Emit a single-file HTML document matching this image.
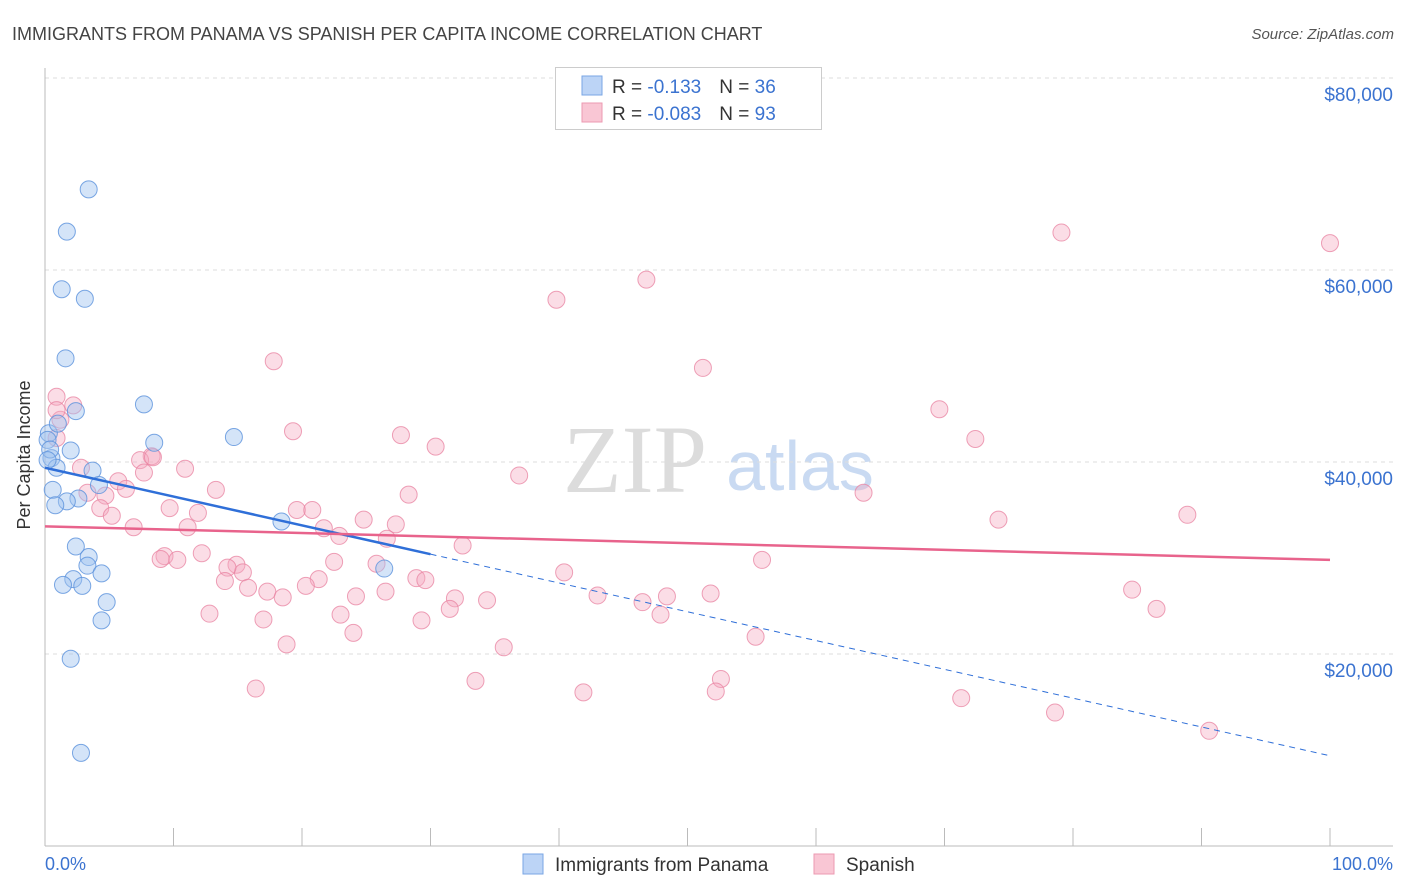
<!DOCTYPE html>
<html><head><meta charset="utf-8"><style>
body{margin:0;background:#fff;font-family:"Liberation Sans",sans-serif;}
#wrap{position:relative;width:1406px;height:892px;overflow:hidden;}
</style></head><body><div id="wrap">
<svg id="svg" width="1406" height="892" xmlns="http://www.w3.org/2000/svg">
<text x="12" y="40" font-size="18" fill="#444">IMMIGRANTS FROM PANAMA VS SPANISH PER CAPITA INCOME CORRELATION CHART</text>
<text x="1394" y="39" font-size="15" fill="#555" text-anchor="end" font-style="italic">Source: ZipAtlas.com</text>
<text x="635" y="492" font-size="96" fill="#dcdcdc" text-anchor="middle" font-family="Liberation Serif,serif">ZIP</text>
<text x="800" y="490" font-size="70" fill="#c9daf2" text-anchor="middle">atlas</text>
<g id="grid"></g><g id="axes"></g><g id="marks"></g><g id="trends"></g>
<text x="30" y="455" font-size="18" fill="#333" text-anchor="middle" transform="rotate(-90 30 455)">Per Capita Income</text>
<text x="45" y="870" font-size="18" fill="#3b73d0">0.0%</text>
<text x="1393" y="870" font-size="18" fill="#3b73d0" text-anchor="end">100.0%</text>
<g>
<rect x="555.5" y="67.5" width="266" height="62" fill="#fff" stroke="#ccc"/>
<rect x="582" y="76" width="20" height="19" fill="#bcd4f6" stroke="#7aa6e4"/>
<rect x="582" y="103" width="20" height="19" fill="#f9c6d4" stroke="#ec9ab2"/>
<text x="612" y="93" font-size="19" fill="#333">R = <tspan fill="#3b73d0"> -0.133</tspan><tspan dx="18">N = </tspan><tspan fill="#3b73d0">36</tspan></text>
<text x="612" y="120" font-size="19" fill="#333">R = <tspan fill="#3b73d0">-0.083</tspan><tspan dx="18">N = </tspan><tspan fill="#3b73d0">93</tspan></text>
</g>
<g>
<rect x="523" y="854" width="20" height="20" fill="#bcd4f6" stroke="#7aa6e4"/>
<text x="555" y="871" font-size="19" fill="#333">Immigrants from Panama</text>
<rect x="814" y="854" width="20" height="20" fill="#f9c6d4" stroke="#ec9ab2"/>
<text x="846" y="871" font-size="19" fill="#333">Spanish</text>
</g>
</svg></div>
<script>
const yTicks=[20000,40000,60000,80000];
const yTickLabels=["$20,000","$40,000","$60,000","$80,000"];
const xTicks=[0,10,20,30,40,50,60,70,80,90,100];
const panamaX=[3.4,1.7,1.3,3.1,1.6,7.7,2.4,8.5,14.7,0.3,1.0,2.0,0.5,0.9,3.7,0.6,4.2,2.6,1.7,0.8,18.4,2.4,3.4,3.3,4.4,2.2,1.4,2.9,4.8,4.4,2.0,2.8,26.4,0.2,0.4,0.2];
const panamaY=[68400,64000,58000,57000,50800,46000,45300,42000,42600,43000,44000,41200,40400,39400,39100,37100,37600,36200,35900,35500,33800,31200,30100,29200,28400,27800,27200,27100,25400,23500,19500,9700,28900,42300,41300,40200];
const spanishX=[79.1,100,46.8,39.8,17.8,51.2,0.9,2.2,69.6,1.2,19.3,27.7,72.4,30.4,0.9,8.3,7.4,2.8,10.9,7.7,36.9,5.7,6.3,13.3,63.7,3.3,28.3,4.7,19.6,20.8,9.7,11.9,4.3,5.2,88.9,74.2,24.8,27.3,6.9,21.7,11.1,22.9,26.6,32.5,9.3,9.0,10.3,12.2,55.8,22.5,14.9,25.8,15.4,14.2,40.4,21.3,14.0,28.9,29.6,20.3,15.8,17.3,18.5,24.2,26.5,43.0,31.9,34.4,48.4,46.5,51.8,31.5,12.8,17.0,23.0,29.3,47.9,84.6,86.5,24.0,55.3,18.8,35.7,33.5,52.6,16.4,41.9,52.2,71.3,78.6,90.6,8.4,0.9];
const spanishY=[63900,62800,59000,56900,50500,49800,46800,45900,45500,44400,43200,42800,42400,41600,42500,40600,40200,39400,39300,38900,38600,38000,37200,37100,36800,36800,36600,36500,35000,35000,35200,34700,35200,34400,34500,34000,34000,33500,33200,33100,33200,32300,32000,31300,30200,29900,29800,30500,29800,29600,29300,29400,28500,29000,28500,27800,27600,27900,27700,27100,26900,26500,25900,26000,26500,26100,25800,25600,26000,25400,26300,24700,24200,23600,24100,23500,24100,26700,24700,22200,21800,21000,20700,17200,17400,16400,16000,16100,15400,13900,12000,40500,45400];
const panamaTrend=[39400,9400];
const spanishTrend=[33300,29800];
const X=v=>45+v*12.85;
const Y=v=>846-v*192/20000;
const NS="http://www.w3.org/2000/svg";
function mk(t,a,p){const e=document.createElementNS(NS,t);for(const k in a)e.setAttribute(k,a[k]);p.appendChild(e);return e;}
const grid=document.getElementById('grid'),axes=document.getElementById('axes'),marks=document.getElementById('marks'),trends=document.getElementById('trends');
mk('line',{x1:45,y1:Y(80000),x2:1393,y2:Y(80000),stroke:'#ddd','stroke-dasharray':'4 4'},grid);
yTicks.forEach((t,i)=>{
const l=mk('line',{x1:45,y1:Y(t),x2:1393,y2:Y(t),stroke:'#ddd','stroke-dasharray':'4 4'},grid);


const tx=mk('text',{x:1393,y:Y(t)+23,'font-size':19,fill:'#3b73d0','text-anchor':'end'},axes);
tx.textContent=yTickLabels[i];


});
const ya=mk('line',{x1:45,y1:68,x2:45,y2:846,stroke:'#bbb'},axes);


const xa=mk('line',{x1:45,y1:846,x2:1393,y2:846,stroke:'#bbb'},axes);


xTicks.forEach(t=>{
const l=mk('line',{x1:X(t),y1:828,x2:X(t),y2:846,stroke:'#bbb'},axes);


});
spanishX.forEach((x,i)=>{
const c=mk('circle',{cx:X(x),cy:Y(spanishY[i]),r:8.5,fill:'rgba(245,170,192,0.4)',stroke:'rgba(232,130,160,0.75)','stroke-width':1},marks);


});
panamaX.forEach((x,i)=>{
const c=mk('circle',{cx:X(x),cy:Y(panamaY[i]),r:8.5,fill:'rgba(160,195,240,0.45)',stroke:'rgba(90,145,220,0.8)','stroke-width':1},marks);


});
const pY=x=>panamaTrend[0]+(panamaTrend[1]-panamaTrend[0])*x/100;
const t1=mk('line',{x1:X(0),y1:Y(pY(0)),x2:X(30),y2:Y(pY(30)),stroke:'#2f6fd8','stroke-width':2.5},trends);


const t2=mk('line',{x1:X(30),y1:Y(pY(30)),x2:X(99.8),y2:Y(pY(99.8)),stroke:'#2f6fd8','stroke-width':1,'stroke-dasharray':'6 5'},trends);


const t3=mk('line',{x1:X(0),y1:Y(spanishTrend[0]),x2:X(100),y2:Y(spanishTrend[1]),stroke:'#e8638c','stroke-width':2.5},trends);


</script></body></html>
